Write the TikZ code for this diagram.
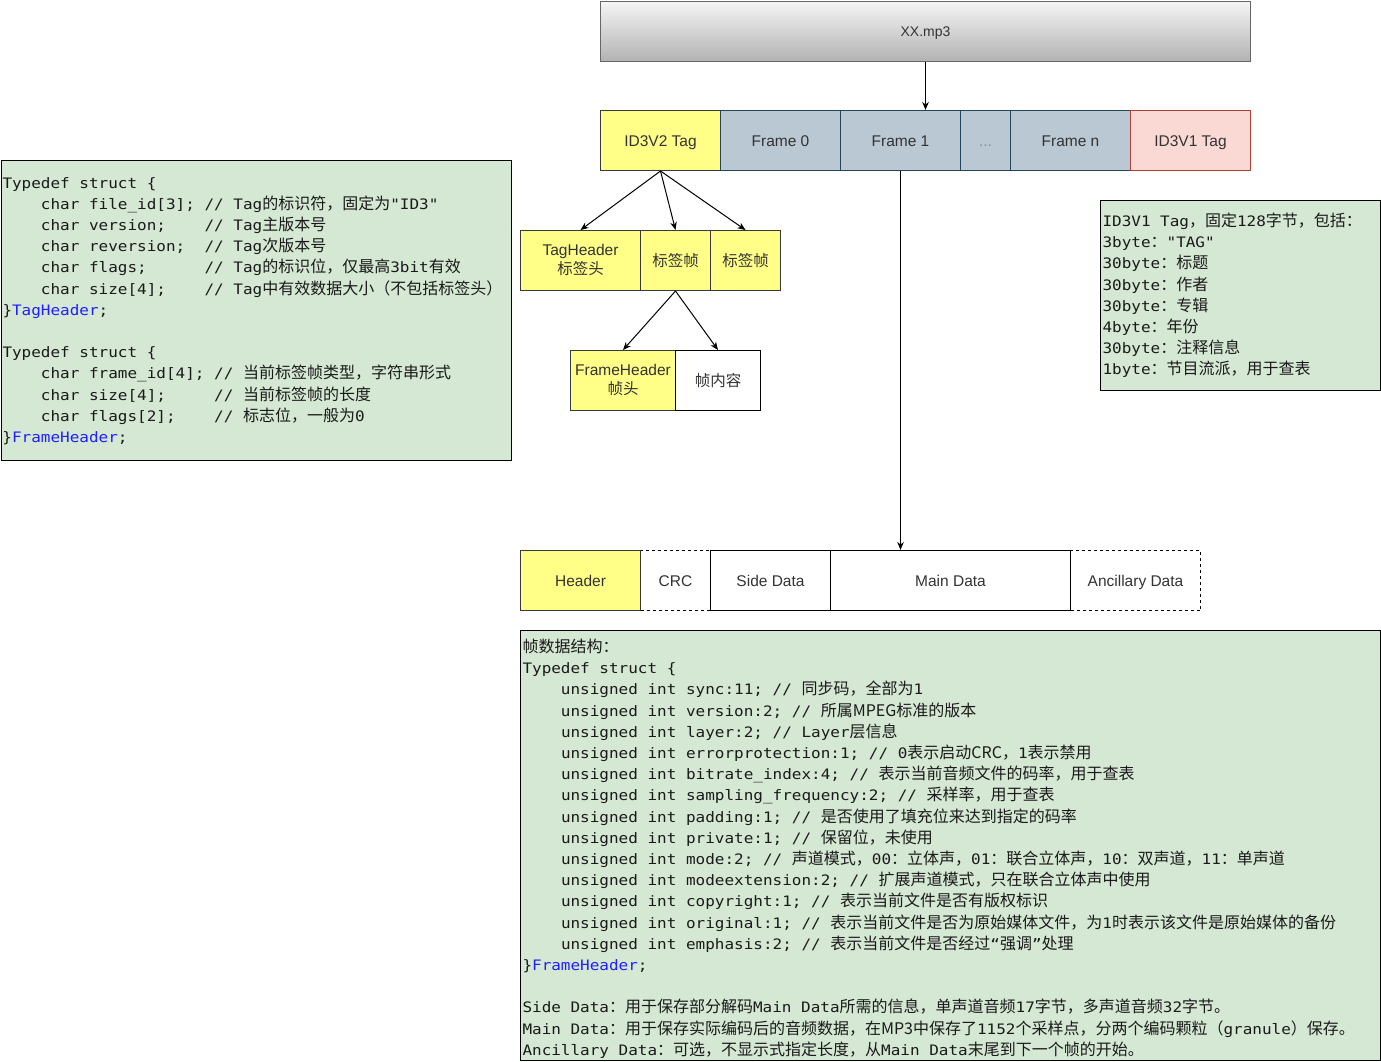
\documentclass[tikz,border=0pt]{standalone}
\usepackage{fontspec}
\setmainfont{Liberation Sans}
\newfontfamily\cjk{Noto Sans CJK SC}
\newfontfamily\codefont{DejaVu Sans Mono}[Scale=0.9,FakeStretch=1.11]
\usetikzlibrary{arrows.meta}
% automatic CJK font switching
\XeTeXinterchartokenstate=1
\newXeTeXintercharclass\cjkcls
\newcount\cjkcnt
\def\setcjkrange#1#2{\cjkcnt=#1\relax\loop\XeTeXcharclass\cjkcnt=\cjkcls\advance\cjkcnt by 1\relax\ifnum\cjkcnt<#2\relax\repeat}
\setcjkrange{"4E00}{"A000}
\setcjkrange{"3000}{"3040}
\setcjkrange{"FF00}{"FFF0}
\def\curlatin{\rmfamily}
\XeTeXinterchartoks 0 \cjkcls = {\cjk}
\XeTeXinterchartoks 4095 \cjkcls = {\cjk}
\XeTeXinterchartoks \cjkcls 0 = {\curlatin}
\XeTeXinterchartoks \cjkcls 4095 = {\curlatin}
% helpers
\def\cwd{\fontcharwd\font`0 }
\newcommand\idt[1]{\hspace*{#1\cwd}}
\newcommand\cbx[2]{\makebox[#2\cwd][l]{#1}}
\newcommand\labelfont{\fontsize{15.5}{19}\selectfont}
\newcommand\codestyle{\fontsize{16}{21.2}\selectfont\let\curlatin\codefont\codefont}
\definecolor{yel}{HTML}{FFFF88}
\definecolor{yelb}{HTML}{36393D}
\definecolor{frm}{HTML}{BAC8D3}
\definecolor{frmb}{HTML}{23445D}
\definecolor{pnk}{HTML}{FAD9D5}
\definecolor{pnkb}{HTML}{AE4132}
\definecolor{grn}{HTML}{D5E8D4}
\definecolor{mtop}{HTML}{F5F5F5}
\definecolor{mbot}{HTML}{B3B3B3}
\definecolor{mbd}{HTML}{666666}
\definecolor{ltxt}{HTML}{333333}
\definecolor{ctxt}{HTML}{1A1A1A}
\definecolor{kw}{HTML}{1F1FFF}
\begin{document}
\begin{tikzpicture}[x=1pt,y=-1pt,line width=1pt,
  cell/.style={draw, inner sep=0pt, anchor=north west, align=center, text=ltxt, font=\labelfont, minimum height=60pt,
    execute at begin node=\rule{0pt}{14.5pt}, execute at end node=\vphantom{Ag}},
  yc/.style={cell, fill=yel, draw=yelb},
  fc/.style={cell, fill=frm, draw=frmb},
  wc/.style={cell, fill=white, draw=black},
  dc/.style={cell, fill=white, draw=black, dash pattern=on 3pt off 3pt},
  greenbox/.style={draw=black, fill=grn, inner sep=0pt, anchor=north west},
  code/.style={inner sep=0pt, anchor=base west, align=left, text=ctxt, font=\codestyle},
  arr/.style={draw=black, -{Stealth[length=8pt,width=6.5pt,inset=2.5pt]}}]
\useasboundingbox (0,0) rectangle (1381,1061);

% file
\node[cell, top color=mtop, bottom color=mbot, draw=mbd, minimum width=650pt, font=\fontsize{14}{17}\selectfont] (mp3) at (600,0.5) {XX.mp3};

% frames row
\node[yc, minimum width=120pt] (id3v2) at (600,110) {ID3V2 Tag};
\node[fc, minimum width=120pt] (f0) at (720,110) {Frame 0};
\node[fc, minimum width=120pt] (f1) at (840,110) {Frame 1};
\node[fc, minimum width=50pt, text=ltxt!55] (dots) at (960,110) {...};
\node[fc, minimum width=120pt] (fn) at (1010,110) {Frame n};
\node[cell, fill=pnk, draw=pnkb, minimum width=120pt] (id3v1) at (1130,110) {ID3V1 Tag};

% ID3V2 parts
\node[yc, minimum width=120pt] (taghdr) at (520,230) {TagHeader\\标签头};
\node[yc, minimum width=70pt] (tf1) at (640,230) {标签帧};
\node[yc, minimum width=70pt] (tf2) at (710,230) {标签帧};

% tag frame parts
\node[yc, minimum width=105pt] (fhdr) at (570,350) {FrameHeader\\帧头};
\node[wc, minimum width=85pt] (fbody) at (675,350) {帧内容};

% MP3 frame parts (dashed first)
\node[dc, minimum width=70pt] (crc) at (640,550) {CRC};
\node[dc, minimum width=130pt] (anc) at (1070,550) {Ancillary Data};
\node[yc, minimum width=120pt] (hdr) at (520,550) {Header};
\node[wc, minimum width=120pt] (side) at (710,550) {Side Data};
\node[wc, minimum width=240pt] (main) at (830,550) {Main Data};

% green text boxes
\node[greenbox, minimum width=510pt, minimum height=300pt] (leftbox) at (0.5,160) {};
\node[greenbox, minimum width=280pt, minimum height=190pt] (v1box) at (1100,200) {};
\node[greenbox, minimum width=860pt, minimum height=430pt] (framebox) at (520,630) {};

% (base anchor = baseline of the last line)
\node[code] (lefttxt) at (2,442.5) {%
Typedef struct \{\\
\idt{4}\cbx{char file\_id[3];}{17}// Tag的标识符，固定为"ID3"\\
\idt{4}\cbx{char version;}{17}// Tag主版本号\\
\idt{4}\cbx{char reversion;}{17}// Tag次版本号\\
\idt{4}\cbx{char flags;}{17}// Tag的标识位，仅最高3bit有效\\
\idt{4}\cbx{char size[4];}{17}// Tag中有效数据大小（不包括标签头）\\
\}\textcolor{kw}{TagHeader};\\
\mbox{}\\
Typedef struct \{\\
\idt{4}\cbx{char frame\_id[4];}{18}// 当前标签帧类型，字符串形式\\
\idt{4}\cbx{char size[4];}{18}// 当前标签帧的长度\\
\idt{4}\cbx{char flags[2];}{18}// 标志位，一般为0\\
\}\textcolor{kw}{FrameHeader};};

\node[code] (v1txt) at (1102,374.8) {%
ID3V1 Tag，固定128字节，包括：\\
3byte："TAG"\\
30byte：标题\\
30byte：作者\\
30byte：专辑\\
4byte：年份\\
30byte：注释信息\\
1byte：节目流派，用于查表};

\node[code] (frametxt) at (522,1055.3) {%
帧数据结构：\\
Typedef struct \{\\
\idt{4}unsigned int sync:11; // 同步码，全部为1\\
\idt{4}unsigned int version:2; // 所属{\cjk MPEG}标准的版本\\
\idt{4}unsigned int layer:2; // Layer层信息\\
\idt{4}unsigned int errorprotection:1; // 0表示启动{\cjk CRC}，1表示禁用\\
\idt{4}unsigned int bitrate\_index:4; // 表示当前音频文件的码率，用于查表\\
\idt{4}unsigned int sampling\_frequency:2; // 采样率，用于查表\\
\idt{4}unsigned int padding:1; // 是否使用了填充位来达到指定的码率\\
\idt{4}unsigned int private:1; // 保留位，未使用\\
\idt{4}unsigned int mode:2; // 声道模式，00：立体声，01：联合立体声，10：双声道，11：单声道\\
\idt{4}unsigned int modeextension:2; // 扩展声道模式，只在联合立体声中使用\\
\idt{4}unsigned int copyright:1; // 表示当前文件是否有版权标识\\
\idt{4}unsigned int original:1; // 表示当前文件是否为原始媒体文件，为1时表示该文件是原始媒体的备份\\
\idt{4}unsigned int emphasis:2; // 表示当前文件是否经过“强调”处理\\
\}\textcolor{kw}{FrameHeader};\\
\mbox{}\\
Side Data：用于保存部分解码Main Data所需的信息，单声道音频17字节，多声道音频32字节。\\
Main Data：用于保存实际编码后的音频数据，在{\cjk MP3}中保存了1152个采样点，分两个编码颗粒（granule）保存。\\
Ancillary Data：可选，不显示式指定长度，从Main Data末尾到下一个帧的开始。};

% connectors
\draw[arr] (mp3.south) -- (mp3.south |- f1.north);
\draw[arr] (id3v2.south) -- (taghdr.north);
\draw[arr] (id3v2.south) -- (tf1.north);
\draw[arr] (id3v2.south) -- (tf2.north);
\draw[arr] (tf1.south) -- (fhdr.north);
\draw[arr] (tf1.south) -- (fbody.north);
\draw[arr] (f1.south) -- (f1.south |- main.north);
\end{tikzpicture}
\end{document}
